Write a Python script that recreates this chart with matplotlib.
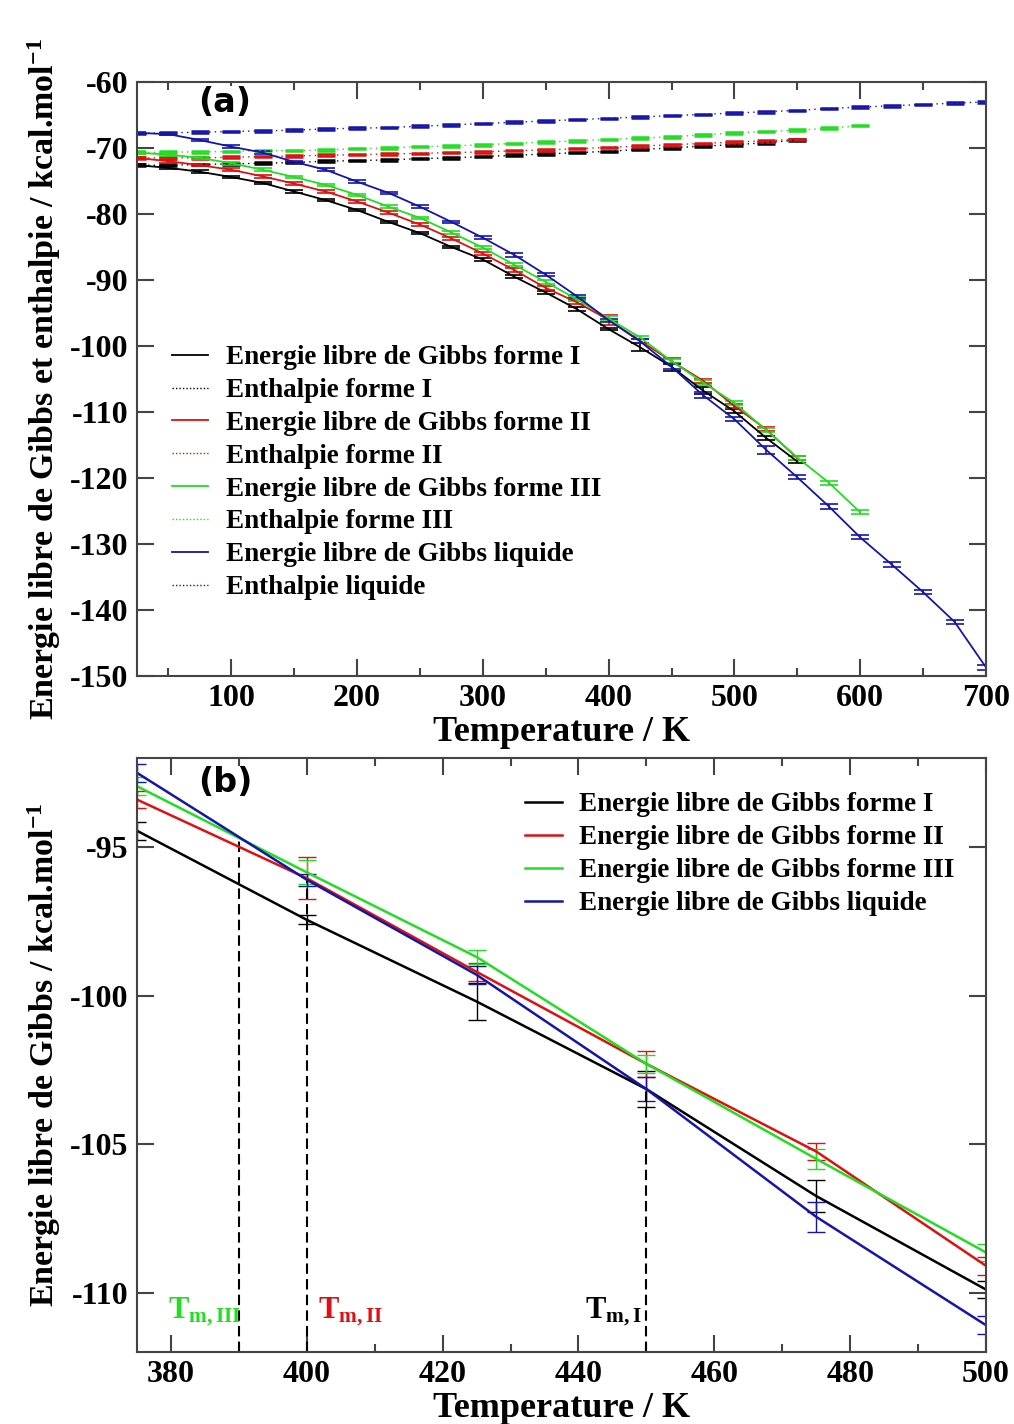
import matplotlib
matplotlib.use('Agg')
import matplotlib.pyplot as plt
from matplotlib.lines import Line2D
from matplotlib.ticker import MultipleLocator

plt.rcParams['font.family'] = ['Liberation Serif', 'DejaVu Serif']
plt.rcParams['font.weight'] = 'bold'
plt.rcParams['axes.labelweight'] = 'bold'
plt.rcParams['axes.unicode_minus'] = False
plt.rcParams['mathtext.fontset'] = 'custom'
plt.rcParams['mathtext.rm'] = 'Liberation Serif:bold'
plt.rcParams['mathtext.bf'] = 'Liberation Serif:bold'
plt.rcParams['mathtext.it'] = 'Liberation Serif:bold'
plt.rcParams['mathtext.default'] = 'bf'

# === DATA ===
T_I = [25, 50, 75, 100, 125, 150, 175, 200, 225, 250, 275, 300, 325, 350,
       375, 400, 425, 450, 475, 500, 525, 550]
T_III = T_I + [575, 600]
T_liq = T_III + [625, 650, 675, 700]

G_I = [-72.6, -73.0, -73.6, -74.4, -75.3, -76.6, -77.9, -79.4, -81.2, -82.9,
       -85.0, -86.9, -89.5, -91.9, -94.45, -97.45, -100.2, -103.15, -106.75,
       -109.9, -113.9, -117.5]
G_II = [-71.5, -72.0, -72.6, -73.3, -74.3, -75.4, -76.6, -78.1, -79.8, -81.6,
        -83.7, -86.0, -88.5, -91.2, -93.4, -96.05, -99.2, -102.3, -105.25,
        -109.1, -112.6, -117.0]
G_III = [-70.7, -71.0, -71.5, -72.3, -73.3, -74.4, -75.6, -77.1, -78.9, -80.6,
         -82.8, -85.1, -87.7, -90.3, -92.95, -95.85, -98.7, -102.3, -105.5,
         -108.65, -112.7, -116.9, -120.7, -125.2]
G_liq = [-67.7, -67.9, -68.8, -69.8, -70.7, -72.1, -73.3, -75.1, -76.8, -78.9,
         -81.2, -83.6, -86.2, -89.2, -92.5, -96.1, -99.3, -103.15, -107.45,
         -111.1, -115.7, -119.9, -124.3, -129.0, -133.1, -137.3, -141.8, -148.7]

err_I = [0.2, 0.2, 0.2, 0.2, 0.2, 0.2, 0.2, 0.2, 0.2, 0.2, 0.2, 0.2, 0.25,
         0.25, 0.3, 0.15, 0.63, 0.6, 0.55, 0.3, 0.3, 0.3]
err_II = [0.2, 0.2, 0.2, 0.2, 0.2, 0.2, 0.2, 0.2, 0.2, 0.2, 0.2, 0.2, 0.25,
          0.25, 0.3, 0.7, 0.3, 0.45, 0.3, 0.3, 0.3, 0.3]
err_III = [0.2, 0.2, 0.2, 0.2, 0.2, 0.2, 0.2, 0.2, 0.2, 0.2, 0.2, 0.2, 0.25,
           0.25, 0.3, 0.4, 0.25, 0.3, 0.35, 0.3, 0.3, 0.3, 0.3, 0.3]
err_liq = [0.2, 0.2, 0.2, 0.2, 0.2, 0.2, 0.2, 0.2, 0.2, 0.2, 0.2, 0.2, 0.25,
           0.25, 0.3, 0.2, 0.3, 0.4, 0.5, 0.3, 0.6, 0.3, 0.4, 0.3, 0.4, 0.3,
           0.3, 0.4]

H_I = [-72.6, -72.6, -72.5, -72.4, -72.3, -72.2, -72.0, -71.9, -71.8, -71.6,
       -71.5, -71.3, -71.1, -70.9, -70.7, -70.5, -70.2, -70.0, -69.7, -69.5,
       -69.2, -68.8]
H_II = [-71.5, -71.5, -71.5, -71.4, -71.3, -71.2, -71.1, -71.0, -70.9, -70.8,
        -70.7, -70.6, -70.4, -70.3, -70.1, -69.9, -69.7, -69.5, -69.3, -69.1,
        -68.9, -68.7]
H_III = [-70.7, -70.6, -70.6, -70.5, -70.4, -70.4, -70.3, -70.1, -70.0, -69.8,
         -69.7, -69.5, -69.3, -69.1, -68.9, -68.7, -68.5, -68.3, -68.0, -67.7,
         -67.5, -67.3, -67.0, -66.6]
H_liq = [-67.8, -67.7, -67.6, -67.5, -67.4, -67.3, -67.1, -67.0, -66.9, -66.7,
         -66.5, -66.3, -66.1, -65.9, -65.7, -65.5, -65.3, -65.1, -64.9, -64.7,
         -64.5, -64.3, -64.0, -63.8, -63.6, -63.4, -63.2, -63.0]

# melting temperatures and where the dashed markers stop
Tm = [390, 400, 450]
Tm_top = [-94.7, -96.1, -103.15]
Tm_labels = [r'T$_{m,III}$', r'T$_{m,II}$', r'T$_{m,I}$']
Tm_text_x = [379.6, 401.7, 441.0]

colors = ['#000000', '#dd1111', '#22dd22', '#1515aa']
names = ['forme I', 'forme II', 'forme III', 'liquide']
G_sets = [(T_I, G_I, err_I), (T_I, G_II, err_II), (T_III, G_III, err_III),
          (T_liq, G_liq, err_liq)]
H_sets = [(T_I, H_I), (T_I, H_II), (T_III, H_III), (T_liq, H_liq)]

# === FIGURE ===
fig = plt.figure(figsize=(10.14, 14.24), dpi=100)
ax1 = fig.add_axes([0.1351, 0.5253, 0.8373, 0.4171])
ax2 = fig.add_axes([0.1351, 0.0506, 0.8373, 0.4171])


def style_axis(ax):
    for s in ax.spines.values():
        s.set_linewidth(1.5)
        s.set_color('#444444')
    ax.tick_params(which='both', direction='in', top=True, right=True,
                   width=1.5, color='#444444', labelsize=23, pad=6)
    ax.tick_params(which='major', length=12)
    ax.tick_params(which='minor', length=6)


# --- panel (a) ---
for (t, g, e), (th, h), c in zip(G_sets, H_sets, colors):
    ax1.errorbar(t, g, yerr=e, color=c, lw=1.3, capsize=6.5, capthick=1.2,
                 elinewidth=1.2)
    ax1.errorbar(th, h, yerr=0.12, color=c, lw=1.0, ls=(0, (1, 3)),
                 capsize=6.5, capthick=1.8, elinewidth=1.0)

ax1.set_xlim(25, 700)
ax1.set_ylim(-150, -60)
ax1.xaxis.set_major_locator(MultipleLocator(100))
ax1.xaxis.set_minor_locator(MultipleLocator(50))
ax1.yaxis.set_major_locator(MultipleLocator(10))
style_axis(ax1)
ax1.set_xlabel('Temperature / K', fontsize=26, labelpad=2)
ax1.set_ylabel(r'Energie libre de Gibbs et enthalpie / kcal.mol$^{-1}$',
               fontsize=24.5)
ax1.yaxis.set_label_coords(-0.087, 0.5)
ax1.text(0.072, 0.966, '(a)', transform=ax1.transAxes, fontsize=24,
         family='DejaVu Sans', weight='bold', va='center', ha='left',
         bbox=dict(facecolor='white', edgecolor='none', pad=0))

handles = []
labels = []
for c, n in zip(colors, names):
    handles.append(Line2D([], [], color=c, lw=1.3))
    labels.append('Energie libre de Gibbs ' + n)
    handles.append(Line2D([], [], color=c, lw=1.0, ls=(0, (1, 1.5))))
    labels.append('Enthalpie ' + n)
ax1.legend(handles, labels, loc='upper left', bbox_to_anchor=(0.041, 0.557),
           frameon=False, fontsize=19.5, labelspacing=0.29, handlelength=1.35,
           handletextpad=0.65, borderpad=0, borderaxespad=0)

# --- panel (b) ---
for (t, g, e), c in zip(G_sets, colors):
    ax2.errorbar(t, g, yerr=e, color=c, lw=1.8, capsize=6.5, capthick=1.0,
                 elinewidth=1.0)

for x, top in zip(Tm, Tm_top):
    ax2.plot([x, x], [-112, top], color='black', lw=1.5, ls=(0, (5, 2.5)))
for x, lab, c in zip(Tm_text_x, Tm_labels, [colors[2], colors[1], colors[0]]):
    ax2.text(x, -110.85, lab, color=c, fontsize=22, va='baseline', ha='left')

ax2.set_xlim(375, 500)
ax2.set_ylim(-112, -92)
ax2.xaxis.set_major_locator(MultipleLocator(20))
ax2.xaxis.set_minor_locator(MultipleLocator(10))
ax2.yaxis.set_major_locator(MultipleLocator(5))
style_axis(ax2)
ax2.set_xlabel('Temperature / K', fontsize=26, labelpad=2)
ax2.set_ylabel(r'Energie libre de Gibbs / kcal.mol$^{-1}$', fontsize=24.5)
ax2.yaxis.set_label_coords(-0.087, 0.5)
ax2.text(0.072, 0.958, '(b)', transform=ax2.transAxes, fontsize=24,
         family='DejaVu Sans', weight='bold', va='center', ha='left')

handles_b = [Line2D([], [], color=c, lw=1.8) for c in colors]
labels_b = ['Energie libre de Gibbs ' + n for n in names]
ax2.legend(handles_b, labels_b, loc='upper left', bbox_to_anchor=(0.457, 0.942),
           frameon=False, fontsize=19.5, labelspacing=0.29, handlelength=1.35,
           handletextpad=0.65, borderpad=0, borderaxespad=0)

fig.savefig('out.png', dpi=100)
